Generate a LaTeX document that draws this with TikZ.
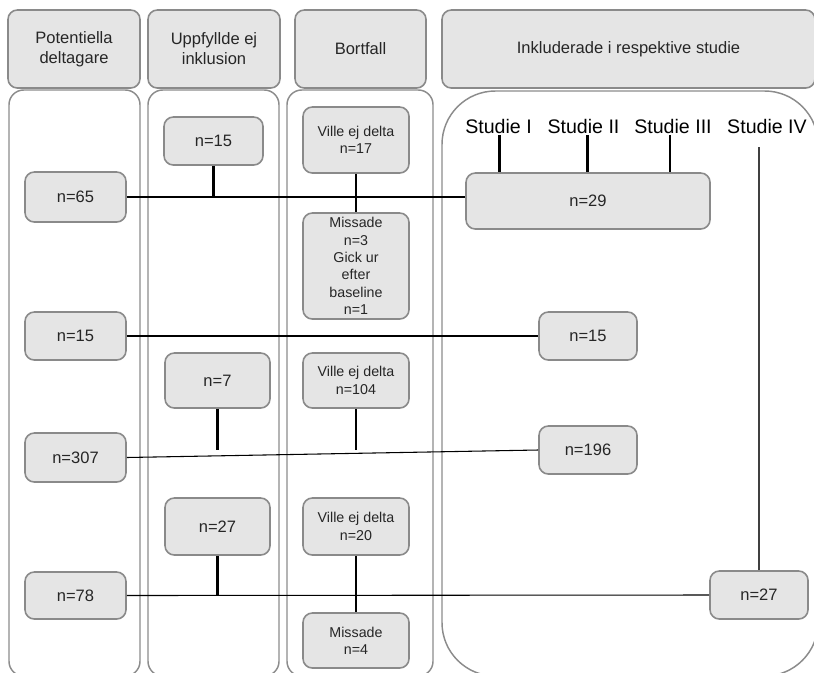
\documentclass[tikz,border=0pt]{standalone}
\usepackage{fontspec}
\setmainfont{Liberation Sans}
\usetikzlibrary{positioning}
\definecolor{boxfill}{HTML}{E5E5E5}
\definecolor{boxline}{HTML}{8A8A8A}
\definecolor{laneline}{HTML}{8C8C8C}
\definecolor{textgray}{HTML}{262626}
\begin{document}
\begin{tikzpicture}[x=0.75pt, y=-0.75pt,
    box/.style={draw=boxline, fill=boxfill, line width=1.2pt, rounded corners=7pt,
      align=center, inner sep=0pt, text=textgray, font=\fontsize{12.4}{15}\selectfont},
    small/.style={font=\fontsize{10.7}{13}\selectfont},
    sz/.style 2 args={minimum width=#1*0.75pt, minimum height=#2*0.75pt},
    lane/.style={draw=laneline, line width=1.1pt, rounded corners=11pt},
    studie/.style={font=\fontsize{14.7}{17}\selectfont, inner sep=1pt},
    link/.style={line width=1.6pt},
    thinlink/.style={line width=0.8pt}]
    \useasboundingbox (0,0) rectangle (814,672);

    % Rubriker
    \node[box, sz={132}{78}] (hpot) at (74,49) {Potentiella\\deltagare};
    \node[box, sz={132}{78}] (hupp) at (214,49) {Uppfyllde ej\\inklusion};
    \node[box, sz={131}{78}] (hbort) at (360.5,49) {Bortfall};
    \node[box, sz={373}{78}] (hinkl) at (628.5,49) {Inkluderade i respektive studie};

    % Kolumner
    \draw[lane] (9,90) rectangle (140,676);
    \draw[lane] (148,90) rectangle (279,676);
    \draw[lane] (287,90) rectangle (433,676);
    \draw[lane, rounded corners=40pt] (442,91) rectangle (818,676);

    % Potentiella deltagare
    \node[box, sz={101}{50}] (p65) at (75.5,197) {n=65};
    \node[box, sz={101}{48}] (p15) at (75.5,336) {n=15};
    \node[box, sz={101}{49}] (p307) at (75.5,457.5) {n=307};
    \node[box, sz={101}{47}] (p78) at (75.5,595.5) {n=78};

    % Uppfyllde ej inklusion
    \node[box, sz={99}{48}] (u15) at (213.5,141) {n=15};
    \node[box, sz={105}{55}] (u7) at (217.5,380.5) {n=7};
    \node[box, sz={105}{57}] (u27) at (217.5,526.5) {n=27};

    % Bortfall
    \node[box, small, sz={106}{66}] (b17) at (356,140) {Ville ej delta\\n=17};
    \node[box, small, sz={106}{106}] (bmiss) at (356,266)
      {Missade\\n=3\\Gick ur\\efter\\baseline\\n=1};
    \node[box, small, sz={106}{55}] (b104) at (356,380.5) {Ville ej delta\\n=104};
    \node[box, small, sz={106}{57}] (b20) at (356,526.5) {Ville ej delta\\n=20};
    \node[box, small, sz={106}{55}] (b4) at (356,640.5) {Missade\\n=4};

    % Inkluderade
    \node[studie] (s1) at (498.5,126) {Studie I};
    \node[studie] (s2) at (583.5,126) {Studie II};
    \node[studie] (s3) at (673,126) {Studie III};
    \node[studie] (s4) at (767,126) {Studie IV};
    \node[box, sz={244}{56}] (i29) at (588,201) {n=29};
    \node[box, sz={98}{48}] (i15) at (588,336) {n=15};
    \node[box, sz={98}{48}] (i196) at (588,450) {n=196};
    \node[box, sz={98}{48}] (i27) at (759,595) {n=27};

    % Linjer
    \draw[link] (p65.east) -- (p65.east -| i29.west);
    \draw[link] (u15.south) -- (u15.south |- p65.east);
    \draw[link] (b17.south) -- (bmiss.north);
    \draw[link] ([xshift=0.75pt]s1.south) -- ([xshift=0.75pt]s1.south |- i29.north);
    \draw[link] ([xshift=3pt]s2.south) -- ([xshift=3pt]s2.south |- i29.north);
    \draw[link] ([xshift=-2.25pt]s3.south) -- ([xshift=-2.25pt]s3.south |- i29.north);
    \draw[thinlink, black!75, shorten >=9pt] (i27.north) -- (i27.north |- s4.south);
    \draw[link] (p15.east) -- (i15.west);
    \draw[thinlink] (p307.east) -- (i196.west);
    \draw[link] (u7.south) -- (u7.south |- i196.west);
    \draw[link] (b104.south) -- (b104.south |- i196.west);
    \draw[thinlink] (p78.east) -- (i27.west);
    \draw[link] (u27.south) -- (u27.south |- p78.east);
    \draw[link] (b20.south) -- (b4.north);
\end{tikzpicture}
\end{document}
